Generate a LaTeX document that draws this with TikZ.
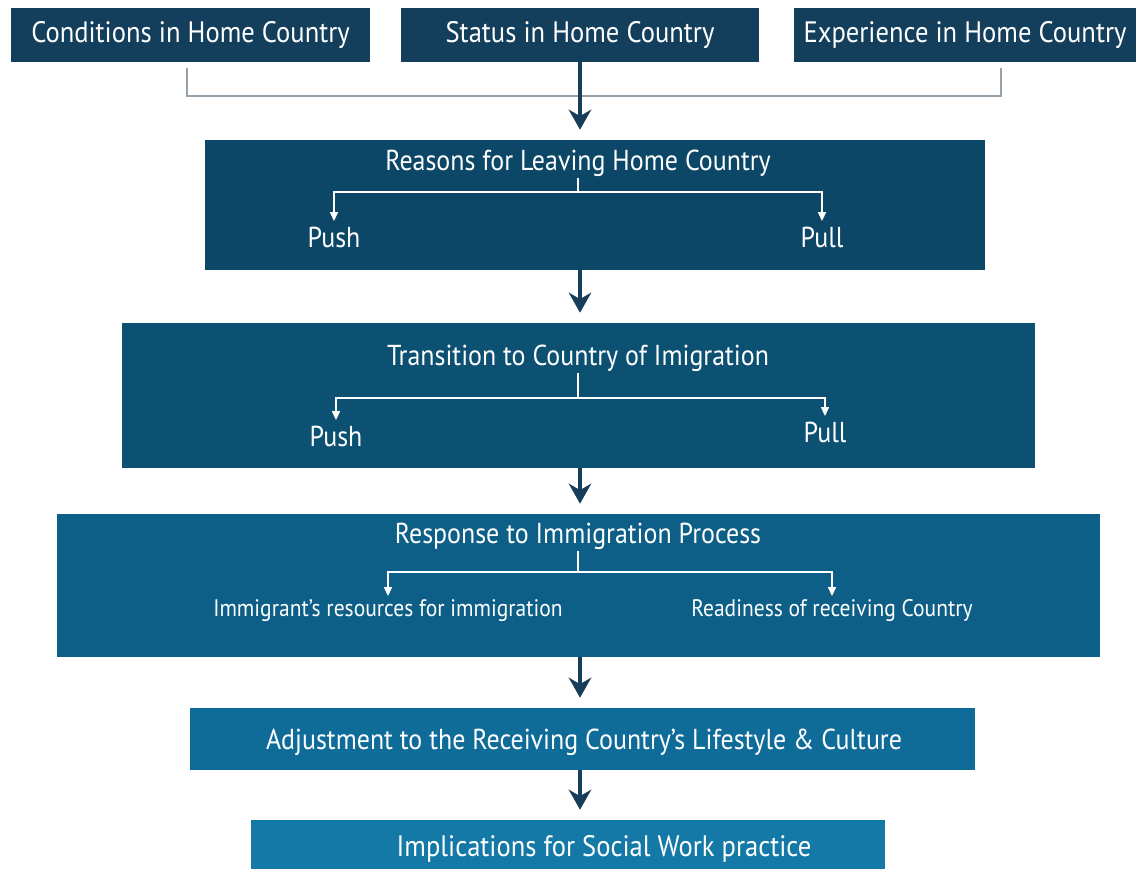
\documentclass[tikz,border=0pt]{standalone}
\usepackage{fontspec}
\setmainfont{PT Sans}[FakeStretch=0.9]
\usetikzlibrary{arrows.meta, positioning, calc}
\definecolor{cTop}{RGB}{19,63,92}
\definecolor{cStageA}{RGB}{12,71,103}
\definecolor{cStageB}{RGB}{12,80,114}
\definecolor{cStageC}{RGB}{13,95,135}
\definecolor{cStageD}{RGB}{15,108,153}
\definecolor{cStageE}{RGB}{20,121,166}
\definecolor{cArrow}{RGB}{22,61,90}
\definecolor{cBracket}{RGB}{150,163,172}
\tikzset{
	topbox/.style   ={rectangle, inner sep=0pt, text=white, minimum height=1.35cm, font=\fontsize{21}{24}\selectfont},
	stagebox/.style ={rectangle, inner sep=0pt},
	stagetitle/.style={text=white, inner sep=1pt, font=\fontsize{20.5}{24}\selectfont},
	sublabel/.style ={text=white, inner xsep=0pt, inner ysep=4pt, anchor=north, font=\fontsize{20.5}{24}\selectfont},
	smalllabel/.style={text=white, inner xsep=0pt, inner ysep=2pt, anchor=north, font=\fontsize{17}{20}\selectfont},
	branch/.style   ={draw=white, line width=0.9pt, -{Triangle[length=2.2mm, width=2mm]}},
	flowarrow/.style={draw=cArrow, line width=2.6pt, -{Stealth[length=5mm, width=5.6mm, inset=1.6mm]}, shorten >=0.25cm},
	bracket/.style  ={draw=cBracket, line width=0.9pt},
}
\begin{document}
\begin{tikzpicture}[x=0.025cm, y=-0.025cm]
	\useasboundingbox (0,0) rectangle (1136,868);
	% home country boxes
	\node[topbox, fill=cTop, minimum width=8.975cm] (cond)   at (190.5,35) {Conditions in Home Country};
	\node[topbox, fill=cTop, minimum width=8.95cm]  (status) at (580,35)   {Status in Home Country};
	\node[topbox, fill=cTop, minimum width=8.55cm]  (exper)  at (965,35)   {Experience in Home Country};
	\coordinate (bl) at (187,68);
	\coordinate (br) at (1001,68);
	\draw[bracket] (bl) -- ++(0,28) -| (br);

	% stages
	\node[stagebox, fill=cStageA, minimum width=19.5cm,   minimum height=3.25cm]  (reasons) at (595,205)   {};
	\node[stagebox, fill=cStageB, minimum width=22.825cm, minimum height=3.625cm] (trans)   at (578.5,395.5) {};
	\node[stagebox, fill=cStageC, minimum width=26.075cm, minimum height=3.575cm] (resp)    at (578.5,585.5) {};
	\node[stagebox, fill=cStageD, minimum width=19.625cm, minimum height=1.55cm]  (adjust)  at (582.5,739) {};
	\node[stagebox, fill=cStageE, minimum width=15.85cm,  minimum height=1.5cm]   (impl)    at (568,850)   {};

	\node[stagetitle] (reasonsT) at (578,163) {Reasons for Leaving Home Country};
	\node[sublabel]   (reasonsL) at (334,221) {Push};
	\node[sublabel]   (reasonsR) at (822,221) {Pull};

	\node[stagetitle] (transT) at (578,358) {Transition to Country of Imigration};
	\node[sublabel]   (transL) at (336,420) {Push};
	\node[sublabel]   (transR) at (825,416) {Pull};

	\node[stagetitle] (respT) at (578,536) {Response to Immigration Process};
	\node[smalllabel] (respL) at (388,596) {Immigrant’s resources for immigration};
	\node[smalllabel] (respR) at (832,596) {Readiness of receiving Country};

	\node[stagetitle] (adjustT) at (584,742) {Adjustment to the Receiving Country’s Lifestyle \& Culture};
	\node[stagetitle, font=\fontsize{21}{25}\selectfont] (implT) at (604,849) {Implications for Social Work practice};

	% push / pull splits
	\draw[branch] (reasonsT.south) -- ++(0,14) -| (reasonsL.north);
	\draw[branch] (reasonsT.south) -- ++(0,14) -| (reasonsR.north);
	\draw[branch] (transT.south) -- ++(0,25) -| (transL.north);
	\draw[branch] (transT.south) -- ++(0,25) -| (transR.north);
	\draw[branch] (respT.south) -- ++(0,21) -| (respL.north);
	\draw[branch] (respT.south) -- ++(0,21) -| (respR.north);

	% main flow
	\draw[flowarrow] (status.south) -- (status.south |- reasons.north);
	\draw[flowarrow] (reasons.south -| status.south) -- (status.south |- trans.north);
	\draw[flowarrow] (trans.south -| status.south) -- (status.south |- resp.north);
	\draw[flowarrow] (resp.south -| status.south) -- (status.south |- adjust.north);
	\draw[flowarrow] (adjust.south -| status.south) -- (status.south |- impl.north);
\end{tikzpicture}
\end{document}
